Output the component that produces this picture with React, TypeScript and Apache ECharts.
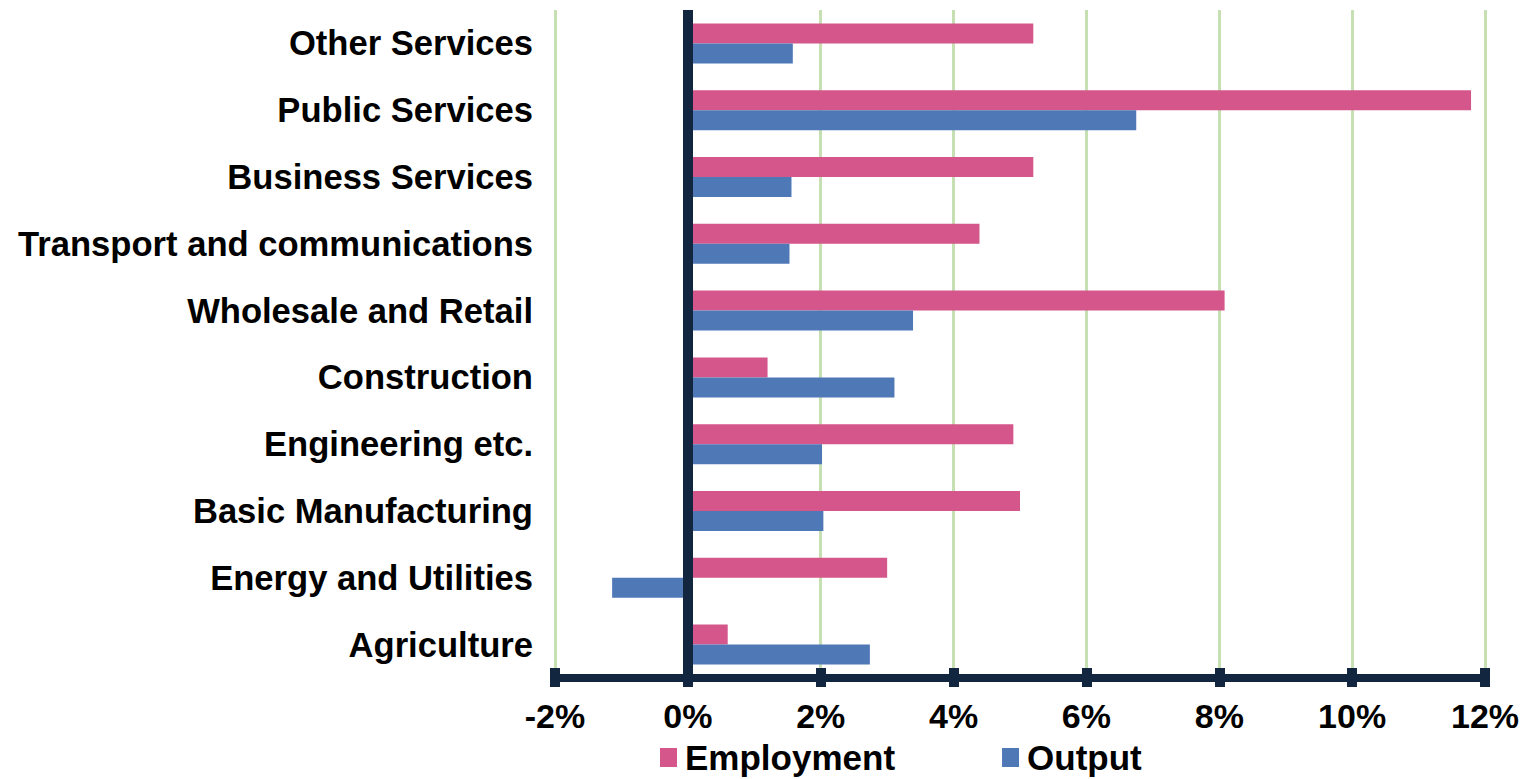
import React, { useEffect, useRef } from "react";
import * as echarts from "echarts";

const categories = [
  "Other Services",
  "Public Services",
  "Business Services",
  "Transport and communications",
  "Wholesale and Retail",
  "Construction",
  "Engineering etc.",
  "Basic Manufacturing",
  "Energy and Utilities",
  "Agriculture",
];
const employment = [5.2, 11.79, 5.2, 4.39, 8.08, 1.2, 4.9, 5.0, 3.0, 0.6];
const output = [1.58, 6.75, 1.56, 1.53, 3.39, 3.11, 2.02, 2.04, -1.14, 2.74];
const xTicks = { min: -2, max: 12, interval: 2 };

const FONT = "'Liberation Sans', Arial, Helvetica, sans-serif";
const NAVY = "#13263f";
const PINK = "#d4568a";
const BLUE = "#4f78b7";

export default function App() {
  const ref = useRef<HTMLDivElement>(null);
  useEffect(() => {
    if (!ref.current) return;
    const chart = echarts.init(ref.current, undefined, { renderer: "svg" });
    chart.setOption({
      animation: false,
      backgroundColor: "#ffffff",
      grid: { left: 555, right: 40, top: 10, bottom: 101, containLabel: false },
      legend: {
        left: 660,
        top: 740,
        padding: 0,
        itemWidth: 17,
        itemHeight: 19,
        itemGap: 107,
        icon: "rect",
        textStyle: {
          fontFamily: FONT,
          fontWeight: "bold",
          fontSize: 35,
          color: "#000",
          padding: [0, 0, 0, 3],
        },
        data: ["Employment", "Output"],
      },
      xAxis: [
        {
          type: "value",
          min: xTicks.min,
          max: xTicks.max,
          interval: xTicks.interval,
          axisLine: { show: true, onZero: false, lineStyle: { color: NAVY, width: 8 } },
          axisTick: { show: true, inside: false, length: 9, lineStyle: { color: NAVY, width: 10 } },
          splitLine: { show: true, lineStyle: { color: "#c6e0b4", width: 3 } },
          axisLabel: {
            margin: 21,
            fontFamily: FONT,
            fontWeight: "bold",
            fontSize: 34,
            color: "#000",
            formatter: (v: number) => `${v}%`,
          },
        },
        {
          type: "value",
          position: "bottom",
          min: xTicks.min,
          max: xTicks.max,
          interval: xTicks.interval,
          axisLine: { show: false },
          axisTick: { show: true, inside: true, length: 10, lineStyle: { color: NAVY, width: 10 } },
          splitLine: { show: false },
          axisLabel: { show: false },
        },
      ],
      yAxis: {
        type: "category",
        inverse: true,
        data: categories,
        axisLine: { show: false },
        axisTick: { show: false },
        axisLabel: {
          margin: 22,
          fontFamily: FONT,
          fontWeight: "bold",
          fontSize: 34.6,
          color: "#000",
        },
      },
      series: [
        {
          name: "Employment",
          type: "bar",
          data: employment,
          barWidth: 20,
          barGap: "0%",
          itemStyle: { color: PINK },
          markLine: {
            silent: true,
            symbol: "none",
            label: { show: false },
            lineStyle: { color: NAVY, width: 10, type: "solid" },
            data: [{ xAxis: 0 }],
            z: 10,
          },
        },
        {
          name: "Output",
          type: "bar",
          data: output,
          barWidth: 20,
          barGap: "0%",
          itemStyle: { color: BLUE },
        },
      ],
    });
    return () => chart.dispose();
  }, []);
  return (
    <div
      ref={ref}
      style={{ position: "fixed", left: 0, top: 0, width: 1525, height: 779 }}
    />
  );
}
